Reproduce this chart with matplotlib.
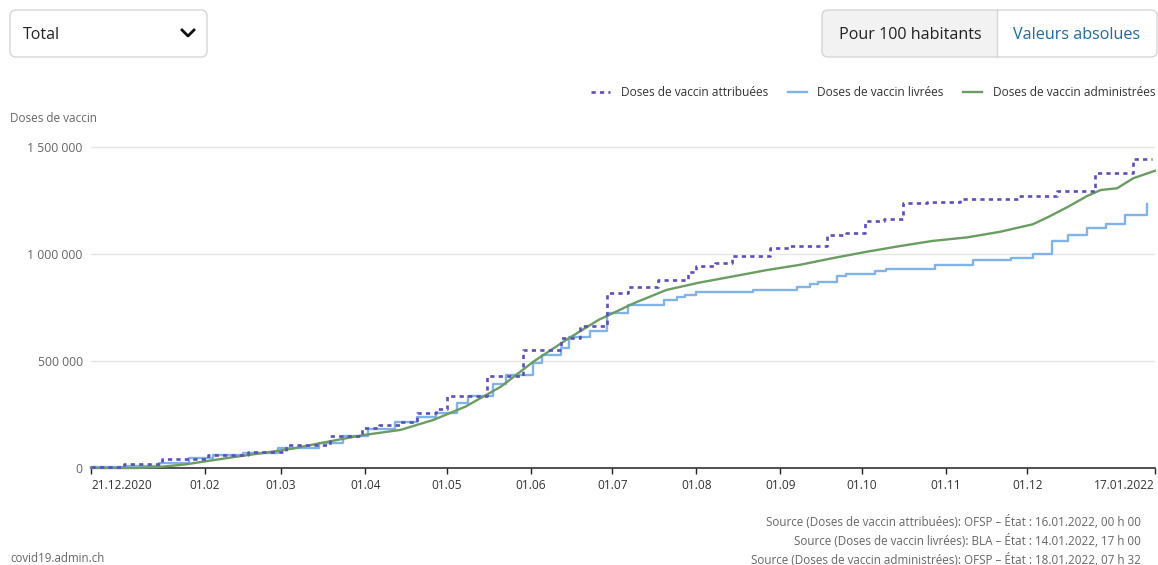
import matplotlib
matplotlib.use('Agg')
import matplotlib.pyplot as plt
import matplotlib.dates as mdates
from matplotlib.patches import FancyBboxPatch, Rectangle
from matplotlib.lines import Line2D
from matplotlib.transforms import IdentityTransform
from matplotlib.ticker import FuncFormatter
import pandas as pd

plt.rcParams['font.family'] = ['Open Sans', 'DejaVu Sans']

# ---------------- data ----------------
alloc_dates = ['2020-12-21', '2021-01-02', '2021-01-16', '2021-02-02', '2021-02-17', '2021-03-03',
               '2021-03-19', '2021-03-31', '2021-04-06', '2021-04-14', '2021-04-20', '2021-04-27',
               '2021-05-01', '2021-05-16', '2021-05-29', '2021-06-12', '2021-06-19', '2021-06-29',
               '2021-07-07', '2021-07-18', '2021-07-29', '2021-08-01', '2021-08-08', '2021-08-14',
               '2021-08-28', '2021-09-04', '2021-09-18', '2021-09-25', '2021-10-02', '2021-10-09',
               '2021-10-16', '2021-10-25', '2021-11-06', '2021-11-28', '2021-12-12', '2021-12-26',
               '2022-01-09', '2022-01-16']
alloc_vals = [7000, 18000, 40000, 62000, 75000, 108000, 150000, 188000, 201000, 213000,
              255000, 274000, 336000, 430000, 550000, 606000, 664000, 817000, 845000, 878000,
              918000, 942000, 959000, 991000, 1028000, 1037000, 1087000, 1100000, 1156000, 1162000,
              1236000, 1244000, 1257000, 1271000, 1296000, 1377000, 1444000, 1444000]

deliv_dates = ['2020-12-21', '2021-01-02', '2021-01-15', '2021-01-26', '2021-02-04', '2021-02-15',
               '2021-02-28', '2021-03-15', '2021-03-24', '2021-04-02', '2021-04-12', '2021-04-20',
               '2021-04-27', '2021-05-05', '2021-05-09', '2021-05-18', '2021-05-23', '2021-06-02',
               '2021-06-05', '2021-06-12', '2021-06-15', '2021-06-23', '2021-06-29', '2021-07-07',
               '2021-07-20', '2021-07-25', '2021-07-28', '2021-08-01', '2021-08-22', '2021-09-07',
               '2021-09-12', '2021-09-15', '2021-09-22', '2021-09-25', '2021-10-06', '2021-10-10',
               '2021-10-28', '2021-11-11', '2021-11-25', '2021-12-03', '2021-12-10', '2021-12-16',
               '2021-12-23', '2021-12-30', '2022-01-06', '2022-01-14']
deliv_vals = [3000, 10000, 25000, 45000, 60000, 72000, 95000, 115000, 150000, 180000,
              213000, 237000, 255000, 302000, 336000, 391000, 435000, 489000, 528000, 559000,
              612000, 638000, 722000, 764000, 786000, 797000, 808000, 822000, 830000, 847000,
              858000, 868000, 899000, 907000, 919000, 931000, 949000, 972000, 983000, 1001000,
              1059000, 1087000, 1123000, 1139000, 1181000, 1234000]

admin_dates = ['2020-12-21', '2021-01-07', '2021-01-16', '2021-01-25', '2021-01-30', '2021-02-11',
               '2021-02-24', '2021-03-05', '2021-03-15', '2021-03-25', '2021-04-01', '2021-04-14',
               '2021-04-26', '2021-05-08', '2021-05-21', '2021-06-02', '2021-06-14', '2021-06-26',
               '2021-07-09', '2021-07-21', '2021-08-02', '2021-08-14', '2021-08-27', '2021-09-08',
               '2021-09-20', '2021-10-03', '2021-10-15', '2021-10-27', '2021-11-09', '2021-11-21',
               '2021-12-03', '2021-12-09', '2021-12-16', '2021-12-23', '2021-12-28', '2022-01-03',
               '2022-01-09', '2022-01-17']
admin_vals = [0, 0, 6000, 17000, 27000, 50000, 73000, 90000, 115000, 139000,
              155000, 178000, 224000, 287000, 380000, 497000, 598000, 692000, 770000, 832000,
              866000, 894000, 925000, 949000, 980000, 1011000, 1037000, 1061000, 1078000, 1104000,
              1139000, 1175000, 1221000, 1271000, 1299000, 1307000, 1354000, 1389000]

tick_dates = ['2020-12-21', '2021-02-01', '2021-03-01', '2021-04-01', '2021-05-01', '2021-06-01',
              '2021-07-01', '2021-08-01', '2021-09-01', '2021-10-01', '2021-11-01', '2021-12-01',
              '2022-01-17']
tick_labels = ['21.12.2020', '01.02', '01.03', '01.04', '01.05', '01.06', '01.07', '01.08',
               '01.09', '01.10', '01.11', '01.12', '17.01.2022']
y_ticks = [0, 500000, 1000000, 1500000]

series_labels = ['Doses de vaccin attribuées', 'Doses de vaccin livrées',
                 'Doses de vaccin administrées']
source_lines = ['Source (Doses de vaccin attribuées): OFSP – État : 16.01.2022, 00 h 00',
                'Source (Doses de vaccin livrées): BLA – État : 14.01.2022, 17 h 00',
                'Source (Doses de vaccin administrées): OFSP – État : 18.01.2022, 07 h 32']

# ---------------- figure ----------------
W, H = 1158, 565
fig = plt.figure(figsize=(W / 100, H / 100), dpi=100)
px = IdentityTransform()

c_alloc = '#5b50b8'
c_deliv = '#80b4e8'
c_admin = '#6b9c63'

ymax = 1.52e6
ax_h = 321 * ymax / 1.5e6
ax = fig.add_axes([91 / W, (H - 468) / H, 1064 / W, ax_h / H])
ax.set_xlim(pd.Timestamp('2020-12-21'), pd.Timestamp('2022-01-17'))
ax.set_ylim(0, ymax)

ax.plot(pd.to_datetime(deliv_dates), deliv_vals, drawstyle='steps-post', color=c_deliv,
        lw=1.7, clip_on=False, zorder=3)
ax.plot(pd.to_datetime(admin_dates), admin_vals, color=c_admin, lw=1.7, clip_on=False, zorder=4)
ax.plot(pd.to_datetime(alloc_dates), alloc_vals, drawstyle='steps-post', color=c_alloc,
        lw=1.9, ls=(0, (1.6, 1.6)), clip_on=False, zorder=5)

for s in ['top', 'right', 'left']:
    ax.spines[s].set_visible(False)
ax.spines['bottom'].set_color('#222222')
ax.spines['bottom'].set_linewidth(1.1)

ax.set_yticks(y_ticks)
ax.yaxis.set_major_formatter(FuncFormatter(lambda v, p: f'{int(v):,}'.replace(',', ' ')))
ax.tick_params(axis='y', length=0, pad=6, labelsize=8.8, labelcolor='#666666')
ax.grid(axis='y', color='#e6e6e6', lw=1)
ax.set_axisbelow(True)

ax.set_xticks(pd.to_datetime(tick_dates))
ax.set_xticklabels(tick_labels)
ax.tick_params(axis='x', length=4, width=1, color='#222222', pad=4, labelsize=8.6,
               labelcolor='#333333')
xl = ax.get_xticklabels()
xl[0].set_horizontalalignment('left')
xl[-1].set_horizontalalignment('right')

# legend
handles = [Line2D([], [], color=c_alloc, lw=1.9, ls=(0, (1.6, 1.6))),
           Line2D([], [], color=c_deliv, lw=1.7),
           Line2D([], [], color=c_admin, lw=1.7)]
fig.legend(handles, series_labels, loc='center right', bbox_to_anchor=(1166 / W, 1 - 93 / H),
           ncol=3, frameon=False, fontsize=8.6, handlelength=1.6, handletextpad=0.9,
           columnspacing=1.6, labelcolor='#333333')

# axis title
fig.text(10, H - 119, 'Doses de vaccin', transform=px, fontsize=8.5, color='#666666', va='center')

# dropdown
fig.add_artist(FancyBboxPatch((10, H - 57), 197, 47, boxstyle='round,pad=0,rounding_size=6',
                              transform=px, fc='white', ec='#d6d6d6', lw=1))
fig.text(23, H - 35, 'Total', transform=px, fontsize=11.5, color='#222222', va='center')
fig.add_artist(Line2D([182, 188, 194], [H - 30, H - 36, H - 30], transform=px, color='#111111',
                      lw=2))

# toggle
fig.add_artist(FancyBboxPatch((822, H - 57), 335, 47, boxstyle='round,pad=0,rounding_size=6',
                              transform=px, fc='#f2f2f2', ec='none'))
fig.add_artist(FancyBboxPatch((997, H - 57), 160, 47, boxstyle='round,pad=0,rounding_size=6',
                              transform=px, fc='white', ec='none'))
fig.add_artist(Rectangle((997, H - 57), 12, 47, transform=px, fc='white', ec='none'))
fig.add_artist(Line2D([997, 997], [H - 57, H - 10], transform=px, color='#d6d6d6', lw=1))
fig.add_artist(FancyBboxPatch((822, H - 57), 335, 47, boxstyle='round,pad=0,rounding_size=6',
                              transform=px, fc='none', ec='#d6d6d6', lw=1))
fig.text(910, H - 35, 'Pour 100 habitants', transform=px, fontsize=11.6, color='#222222',
         va='center', ha='center')
fig.text(1077, H - 35, 'Valeurs absolues', transform=px, fontsize=11.6, color='#1d6a9e',
         va='center', ha='center')

# footer
fig.text(10, H - 559, 'covid19.admin.ch', transform=px, fontsize=8.3, color='#666666', va='center')
for i, line in enumerate(source_lines):
    fig.text(1141, H - (522.5 + 18.5 * i), line, transform=px, fontsize=8.4, color='#666666',
             va='center', ha='right')

fig.savefig('out.png', dpi=100)
